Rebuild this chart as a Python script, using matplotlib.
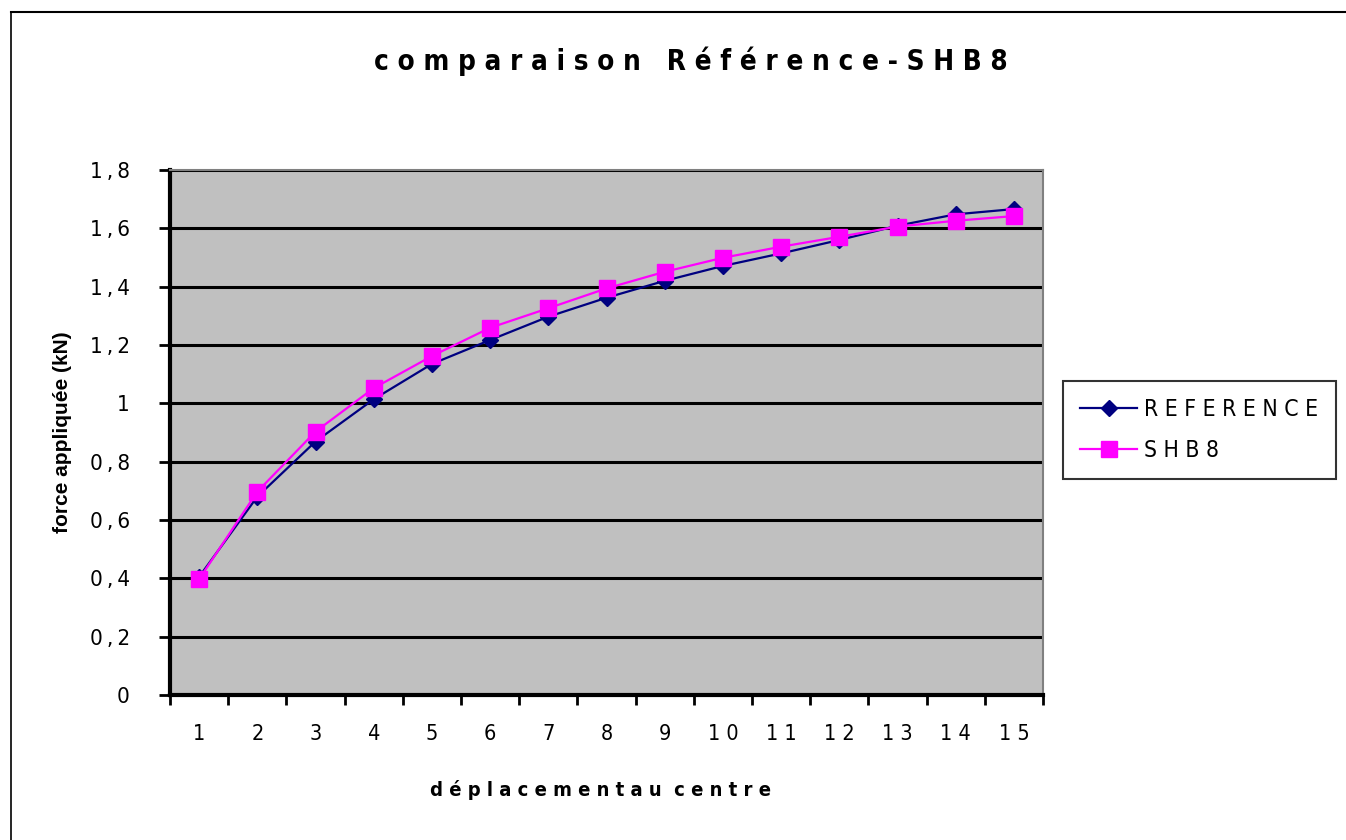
import matplotlib.pyplot as plt
from matplotlib.lines import Line2D
import numpy as np

plt.rcParams['font.family'] = ['DejaVu Sans']
plt.rcParams['font.stretch'] = 'condensed'

categories = [str(i) for i in range(1, 16)]
reference = [0.405, 0.680, 0.869, 1.014, 1.135, 1.217, 1.297, 1.362,
             1.420, 1.471, 1.514, 1.560, 1.609, 1.648, 1.666]
shb8 = [0.397, 0.697, 0.903, 1.052, 1.162, 1.259, 1.326, 1.394,
        1.451, 1.499, 1.537, 1.571, 1.606, 1.626, 1.642]
y_ticks = [0, 0.2, 0.4, 0.6, 0.8, 1.0, 1.2, 1.4, 1.6, 1.8]

THIN = '\u2009'


def spaced(s, sep=' '):
    return sep.join(s)


W, H = 1346, 840
fig = plt.figure(figsize=(W / 100, H / 100), dpi=100)

# outer frame (only top and left edges visible)
fig.add_artist(Line2D([11 / W, 1], [1 - 12 / H, 1 - 12 / H], color='black', lw=1.5))
fig.add_artist(Line2D([11 / W, 11 / W], [0, 1 - 12 / H], color='black', lw=1.2))

ax = fig.add_axes([170 / W, 1 - 695 / H, (1043 - 170) / W, (695 - 170) / H])
ax.set_facecolor('#c0c0c0')

x = np.arange(len(categories))
ax.plot(x, reference, color='#000080', lw=1.6, marker='D', ms=8,
        label=spaced('REFERENCE'), zorder=3)
ax.plot(x, shb8, color='#ff00ff', lw=1.6, marker='s', ms=11.5,
        label=spaced('SHB8'), zorder=4)

ax.set_ylim(0, 1.8)
ax.set_xlim(-0.5, len(categories) - 0.5)
ax.set_yticks(y_ticks)
ax.set_yticklabels([f'{v:g}'.replace('.', THIN + ',' + THIN) for v in y_ticks],
                   fontsize=16)
for v in y_ticks[1:]:
    ax.axhline(v, color='black', lw=2.2, zorder=1)

ax.set_xticks(np.arange(-0.5, len(categories), 1.0), minor=True)
ax.set_xticks(x)
ax.set_xticklabels([spaced(c) for c in categories], fontsize=15.5)
ax.tick_params(axis='x', which='major', length=0, pad=21)
ax.tick_params(axis='x', which='minor', length=7, width=2, direction='out')
ax.tick_params(axis='y', length=8, width=2, direction='out', pad=21)

for side in ['top', 'right']:
    ax.spines[side].set_color('#808080')
    ax.spines[side].set_linewidth(1.5)
ax.spines['left'].set_linewidth(3)
ax.spines['bottom'].set_linewidth(3)

fig.text(0.513, 1 - 61 / H,
         spaced('comparaison') + '   ' + spaced('Référence-SHB8'),
         ha='center', va='center', fontsize=20, fontweight='bold')
fig.text(601 / W, 1 - 790 / H,
         spaced('déplacementau') + '  ' + spaced('centre'),
         ha='center', va='center', fontsize=14.5, fontweight='bold')
fig.text(63 / W, 1 - 432 / H, 'force appliquée (kN)', rotation=90,
         ha='center', va='center', fontsize=15, fontweight='bold',
         family=['Liberation Sans', 'DejaVu Sans'], stretch='normal')

leg = fig.legend(loc='center left', bbox_to_anchor=(1063 / W, 1 - 430 / H),
                 borderaxespad=0, fontsize=16.5, frameon=True, fancybox=False,
                 edgecolor='black', borderpad=0.75, handlelength=2.5,
                 handletextpad=0.3, labelspacing=0.8)
leg.get_frame().set_linewidth(1.5)

fig.savefig('out.png', dpi=100)
